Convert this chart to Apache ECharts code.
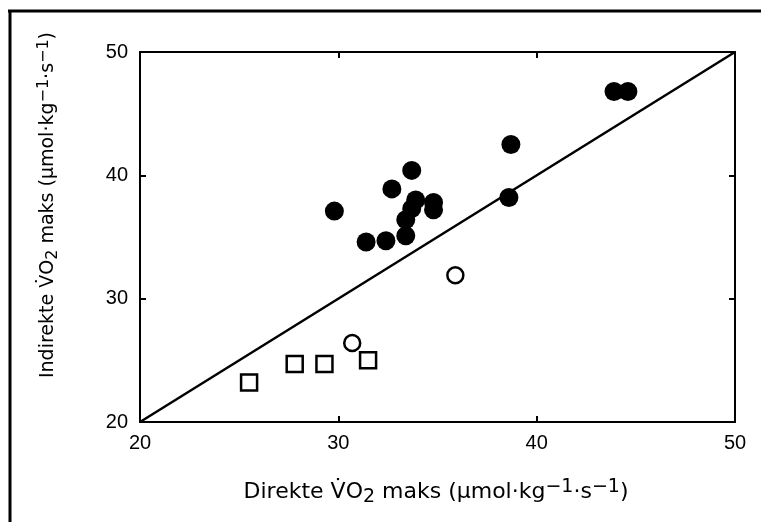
<!DOCTYPE html>
<html>
<head>
<meta charset="utf-8">
<script src="https://cdn.jsdelivr.net/npm/echarts@6/dist/echarts.min.js"></script>
<style>html,body{margin:0;padding:0;background:#fff;}#c{width:761px;height:522px;}</style>
</head>
<body>
<div id="c"></div>
<script>
// Data
const xTicks = [20, 30, 40, 50];
const yTicks = [20, 30, 40, 50];
const filledX = [29.8, 31.4, 32.4, 32.7, 33.7, 33.4, 33.4, 33.9, 33.7, 34.8, 34.8, 38.7, 38.6, 43.9, 44.6];
const filledY = [37.1, 34.6, 34.7, 38.9, 40.4, 35.1, 36.4, 38.0, 37.3, 37.8, 37.2, 42.5, 38.2, 46.8, 46.8];
const openX = [35.9, 30.7];
const openY = [31.9, 26.4];
const squareX = [25.5, 27.8, 29.3, 31.5];
const squareY = [23.2, 24.7, 24.7, 25.0];
const identityX = [20, 50];
const identityY = [20, 50];

const zip = (a, b) => a.map((v, i) => [v, b[i]]);
const FONT = '"Liberation Sans", Arial, sans-serif';
const NFONT = '"DejaVu Sans", sans-serif';
const mkRich = (s, ss) => ({
  n: { fontSize: s, fontFamily: NFONT, color: '#000' },
  sub: { fontSize: ss, fontFamily: NFONT, color: '#000', verticalAlign: 'bottom', padding: [Math.round(s * 0.35), 0, 0, 0] },
  sup: { fontSize: ss, fontFamily: NFONT, color: '#000', verticalAlign: 'top', padding: [0, 0, Math.round(s * 0.45), 0] }
});
const nameText = (w) => '{n|' + w + ' V\u0307O}{sub|2}{n| maks (\u03bcmol\u00b7kg}{sup|\u22121}{n|\u00b7s}{sup|\u22121}{n|)}';

const chart = echarts.init(document.getElementById('c'), null, { renderer: 'canvas' });
const axisCommon = {
  type: 'value', min: 20, max: 50, interval: 10,
  splitLine: { show: false },
  axisLine: { show: true, onZero: false, lineStyle: { color: '#000', width: 2 } },
  axisTick: { show: true, inside: true, length: 6, lineStyle: { color: '#000', width: 2 } }
};
chart.setOption({
  animation: false,
  backgroundColor: '#fff',
  grid: { left: 140, right: 26, top: 52, bottom: 100 },
  xAxis: [
    Object.assign({}, axisCommon, {
      position: 'bottom',
      axisLabel: { color: '#000', fontSize: 20, fontFamily: FONT, margin: 11,
        formatter: v => xTicks.includes(v) ? String(v) : '' }
    }),
    Object.assign({}, axisCommon, { position: 'top', axisLabel: { show: false } })
  ],
  yAxis: [
    Object.assign({}, axisCommon, {
      position: 'left',
      axisLabel: { color: '#000', fontSize: 20, fontFamily: FONT, margin: 12,
        formatter: v => yTicks.includes(v) ? String(v) : '' }
    }),
    Object.assign({}, axisCommon, { position: 'right', axisLabel: { show: false } })
  ],
  graphic: [
    { type: 'line', shape: { x1: 8, y1: 11, x2: 761, y2: 11 }, style: { stroke: '#000', lineWidth: 3 } },
    { type: 'line', shape: { x1: 10, y1: 10, x2: 10, y2: 522 }, style: { stroke: '#000', lineWidth: 3 } },
    { type: 'text', x: 436, y: 492,
      style: { text: nameText('Direkte'), rich: mkRich(22, 19), align: 'center', verticalAlign: 'middle' } },
    { type: 'text', x: 48, y: 205, rotation: Math.PI / 2,
      style: { text: nameText('Indirekte'), rich: mkRich(19, 16), align: 'center', verticalAlign: 'middle' } }
  ],
  series: [
    { type: 'line', data: zip(identityX, identityY), symbol: 'none',
      lineStyle: { color: '#000', width: 2.5 }, z: 1 },
    { type: 'scatter', data: zip(filledX, filledY), symbol: 'circle', symbolSize: 19,
      itemStyle: { color: '#000', opacity: 1 }, z: 3 },
    { type: 'scatter', data: zip(openX, openY), symbol: 'circle', symbolSize: 16,
      itemStyle: { color: '#fff', borderColor: '#000', borderWidth: 2.5, opacity: 1 }, z: 3 },
    { type: 'scatter', data: zip(squareX, squareY), symbol: 'rect', symbolSize: 16,
      itemStyle: { color: '#fff', borderColor: '#000', borderWidth: 2.5, opacity: 1 }, z: 3 }
  ]
});
</script>
</body>
</html>
